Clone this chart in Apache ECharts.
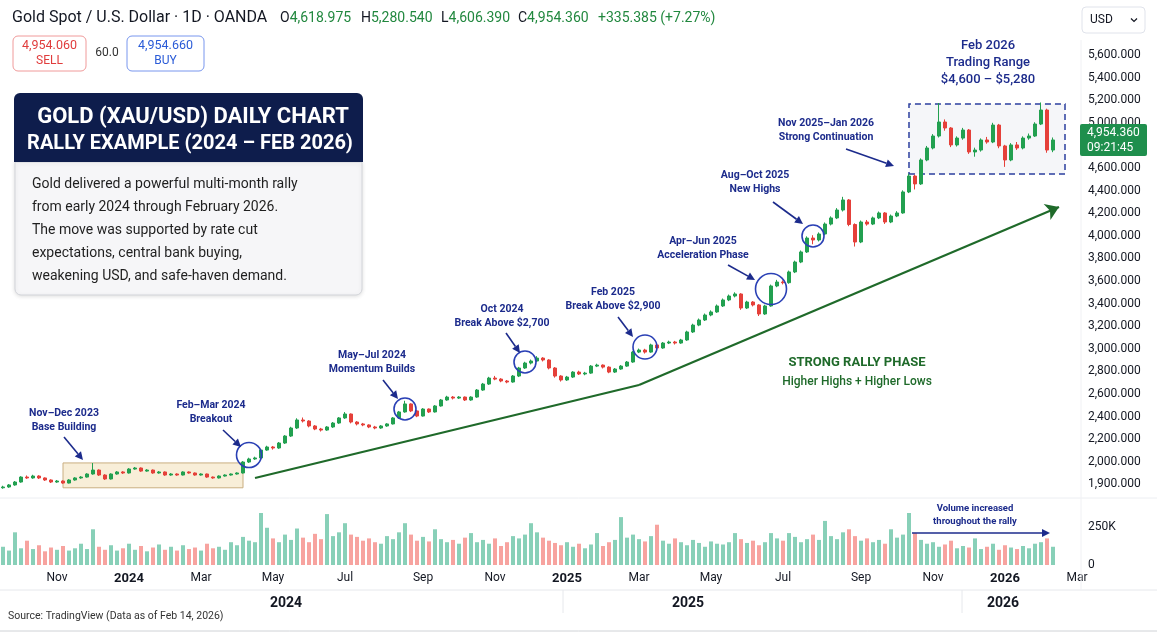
<!DOCTYPE html>
<html lang="en">
<head>
<meta charset="UTF-8">
<title>Gold XAU/USD daily rally</title>
<script src="https://cdn.jsdelivr.net/npm/echarts@6.0.0/dist/echarts.min.js"></script>
<style>html,body{margin:0;padding:0;background:#fff}</style>
</head>
<body>
<div id="main" style="width:1157px;height:633px"></div>
<script>
// one candle every 5 calendar days from startDate; a few empty slots on the right
var startDate = '2023-09-21';
var stepDays = 5;
var slotCount = 180;

var firstOpen = 1770;
var closes = [1777,1795,1821,1865,1857,1874,1857,1839,1821,1830,
  1812,1839,1857,1865,1892,1927,1883,1848,1892,1910,
  1901,1936,1945,1918,1927,1901,1910,1883,1892,1883,
  1910,1901,1883,1892,1865,1857,1874,1883,1892,1901,
  1998,2025,2034,2104,2131,2122,2166,2228,2299,2370,
  2361,2317,2290,2281,2308,2343,2388,2423,2352,2335,
  2326,2308,2299,2317,2335,2388,2441,2512,2450,2405,
  2467,2441,2494,2547,2573,2564,2573,2547,2573,2635,
  2688,2741,2732,2715,2706,2759,2830,2874,2892,2918,
  2901,2830,2759,2724,2750,2794,2777,2785,2847,2856,
  2838,2794,2821,2847,2883,2971,2989,2971,3034,3007,
  3051,3060,3051,3078,3149,3210,3255,3299,3326,3379,
  3432,3467,3485,3361,3414,3388,3308,3379,3556,3591,
  3585,3680,3768,3857,3980,3963,4016,4104,4158,4228,
  4317,4100,3945,4122,4104,4158,4202,4122,4175,4202,
  4388,4529,4459,4671,4777,4883,5007,4954,4804,4865,
  4936,4742,4759,4848,4830,4980,4795,4671,4804,4777,
  4865,4883,4989,5113,4759,4848];
var highs = [1788,1803,1830,1872,1879,1885,1881,1862,1845,1839,
  1836,1846,1864,1873,1899,1989,1933,1890,1898,1918,
  1917,1944,1954,1950,1935,1932,1918,1915,1900,1898,
  1916,1915,1906,1898,1896,1870,1880,1889,1897,1907,
  2006,2036,2045,2112,2142,2140,2175,2236,2310,2385,
  2392,2368,2325,2300,2316,2352,2396,2440,2428,2360,
  2344,2332,2318,2325,2342,2396,2450,2540,2518,2458,
  2475,2472,2502,2556,2584,2582,2581,2578,2580,2644,
  2698,2752,2760,2740,2724,2768,2840,2885,2905,2935,
  2926,2908,2838,2766,2760,2802,2806,2796,2856,2868,
  2862,2845,2830,2856,2892,2980,3002,3000,3045,3042,
  3060,3072,3070,3088,3160,3222,3268,3312,3340,3392,
  3445,3480,3500,3492,3425,3422,3395,3390,3568,3610,
  3605,3692,3780,3870,3995,4005,4030,4118,4172,4245,
  4345,4325,4110,4135,4140,4170,4215,4210,4188,4218,
  4402,4550,4540,4685,4795,4900,5175,5030,4962,4880,
  4955,4945,4780,4862,4875,5000,4990,4805,4820,4830,
  4880,4905,5005,5180,5125,4870];
var lows = [1762,1770,1788,1815,1849,1850,1848,1831,1812,1814,
  1805,1808,1833,1850,1860,1886,1875,1840,1843,1886,
  1893,1896,1930,1911,1912,1894,1895,1876,1877,1876,
  1879,1895,1877,1878,1858,1850,1852,1869,1878,1887,
  1896,1990,2017,2029,2097,2108,2115,2158,2220,2290,
  2348,2305,2280,2268,2274,2300,2336,2380,2340,2322,
  2315,2298,2288,2292,2310,2330,2380,2435,2440,2395,
  2400,2432,2436,2488,2540,2552,2556,2538,2540,2566,
  2628,2680,2722,2704,2695,2700,2750,2822,2862,2884,
  2888,2818,2745,2710,2716,2742,2768,2766,2778,2838,
  2826,2784,2786,2814,2840,2876,2962,2958,2965,2995,
  3000,3042,3038,3044,3070,3140,3200,3246,3288,3318,
  3370,3422,3455,3345,3352,3375,3290,3300,3372,3545,
  3570,3576,3670,3758,3848,3925,3950,4005,4092,4148,
  4215,4085,3905,3935,4090,4095,4148,4105,4112,4165,
  4195,4378,4410,4450,4660,4765,4870,4930,4785,4790,
  4850,4725,4700,4745,4815,4820,4775,4610,4660,4760,
  4765,4850,4875,4980,4735,4740];
// volume in thousands
var volumes = [120,95,215,110,160,105,130,90,115,100,
  125,95,110,140,105,235,120,100,130,95,
  110,140,100,125,90,115,135,100,120,95,
  130,105,115,95,140,110,120,100,150,130,
  185,160,150,342,245,175,150,200,165,240,
  180,150,205,170,335,190,215,275,200,185,
  160,175,150,140,190,170,215,275,200,160,
  185,155,235,170,150,165,140,180,210,150,
  165,140,175,125,150,190,175,200,275,215,
  180,160,145,130,150,120,140,110,135,210,
  125,150,165,315,180,200,170,155,190,265,
  160,140,175,150,130,165,145,120,155,140,
  135,150,210,170,145,160,130,150,210,175,
  160,210,185,150,170,200,165,290,190,170,
  215,235,190,160,175,150,165,140,235,180,
  200,342,210,165,140,150,120,135,160,110,
  125,115,175,105,120,140,100,130,115,105,
  125,110,140,150,175,120];

var priceTickValues = [1800,2000,2200,2400,2600,2800,3000,3200,3400,3600,3800,4000,4200,4400,4600,4800,5000,5200,5400,5600];
var priceTickLabels = ['1,900.000','2,000.000','2,200.000','2,400.000','2,600.000','2,800.000','3,000.000','3,200.000','3,400.000','3,600.000','3,800.000','4,000.000','4,200.000','4,400.000','4,600.000','4,800.000','5,000.000','5,200.000','5,400.000','5,600.000'];
var volumeTickValues = [0, 250000];
var volumeTickLabels = ['0', '250K'];
var monthNames = ['Jan','Feb','Mar','Apr','May','Jun','Jul','Aug','Sep','Oct','Nov','Dec'];

var quote = {open: '4,618.975', high: '5,280.540', low: '4,606.390', close: '4,954.360', change: '+335.385 (+7.27%)',
  sell: '4,954.060', spread: '60.0', buy: '4,954.660', clock: '09:21:45'};

// annotated zones (candle index, price)
var baseBox = {from: 10, to: 40, low: 1770, high: 1990};
var rangeBox = {from: 151, to: 177, low: 4547, high: 5166};
var circles = [
  {i: 41, v: 2060, size: 25},
  {i: 67, v: 2467, size: 22},
  {i: 87, v: 2883, size: 22},
  {i: 107, v: 3016, size: 24},
  {i: 128, v: 3529, size: 31},
  {i: 135, v: 3998, size: 22}
];
var trendPoints = [[42, 1857], [106, 2680], [176, 4255]];

var upColor = '#22a050', downColor = '#e5403a';
var volUp = 'rgba(38,170,125,0.55)', volDown = 'rgba(240,88,80,0.55)';
var navy = '#1c2b8c', ring = '#2a40b5', trendGreen = '#1f6a2a';
var ink = '#131722';
var FONT = 'Roboto, "Noto Sans", sans-serif';

var dates = [];
var t0 = Date.parse(startDate + 'T00:00:00Z');
for (var k = 0; k < slotCount; k++) {
  dates.push(new Date(t0 + k * stepDays * 86400000).toISOString().slice(0, 10));
}

var candles = closes.map(function (c, i) {
  var o = i ? closes[i - 1] : firstOpen;
  return [o, c, lows[i], highs[i]];
});
var volData = volumes.map(function (v, i) {
  var up = candles[i][1] >= candles[i][0];
  return {value: v * 1000, itemStyle: {color: up ? volUp : volDown}};
});

function monthLabelShown(i) {
  if (i === 0) return false;
  var m = +dates[i].slice(5, 7);
  return m !== +dates[i - 1].slice(5, 7) && m % 2 === 1;
}

var chart = echarts.init(document.getElementById('main'));

var option = {
  animation: false,
  backgroundColor: '#fff',
  textStyle: {fontFamily: FONT},
  grid: [
    {left: 0, width: 1080, top: 32.4, height: 463.3},
    {left: 0, width: 1080, top: 504.2, height: 60.8}
  ],
  xAxis: [
    {type: 'category', gridIndex: 0, data: dates, boundaryGap: true,
      axisLine: {show: false}, axisTick: {show: false}, axisLabel: {show: false}, splitLine: {show: false}},
    {type: 'category', gridIndex: 1, data: dates, boundaryGap: true,
      axisLine: {show: false}, axisTick: {show: false}, splitLine: {show: false},
      axisLabel: {
        interval: function (i) { return monthLabelShown(i); },
        formatter: function (v) {
          var m = +v.slice(5, 7);
          return m === 1 ? '{y|' + v.slice(0, 4) + '}' : monthNames[m - 1];
        },
        margin: 7, color: ink, fontSize: 12, fontFamily: FONT,
        rich: {y: {fontWeight: 'bold', fontSize: 13, color: ink, fontFamily: FONT}}
      }}
  ],
  yAxis: [
    {type: 'value', gridIndex: 0, position: 'right', min: 1700, max: 5800,
      axisLine: {show: false}, axisTick: {show: false}, splitLine: {show: false},
      axisLabel: {
        customValues: priceTickValues,
        formatter: function (v) {
          var k = priceTickValues.indexOf(v);
          return k >= 0 ? priceTickLabels[k] : '';
        },
        align: 'left', margin: 8, color: ink, fontSize: 12, fontFamily: FONT
      }},
    {type: 'value', gridIndex: 1, position: 'right', min: 0, max: 400000,
      axisLine: {show: false}, axisTick: {show: false}, splitLine: {show: false},
      axisLabel: {
        customValues: volumeTickValues,
        formatter: function (v) {
          var k = volumeTickValues.indexOf(v);
          return k >= 0 ? volumeTickLabels[k] : '';
        },
        align: 'left', margin: 8, color: ink, fontSize: 12, fontFamily: FONT
      }}
  ],
  series: [
    {
      name: 'XAUUSD', type: 'candlestick', xAxisIndex: 0, yAxisIndex: 0,
      data: candles, barWidth: 2.8,
      itemStyle: {color: upColor, color0: downColor, borderColor: upColor, borderColor0: downColor, borderWidth: 1},
      markArea: {
        silent: true,
        data: [
          [{xAxis: dates[baseBox.from], yAxis: baseBox.low,
            itemStyle: {color: 'rgba(244,226,190,0.6)', borderColor: '#c9ae80', borderWidth: 1}},
           {xAxis: dates[baseBox.to], yAxis: baseBox.high}],
          [{xAxis: dates[rangeBox.from], yAxis: rangeBox.low,
            itemStyle: {color: 'rgba(226,229,238,0.35)', borderColor: '#2b3f9e', borderWidth: 1.5, borderType: [6, 4]}},
           {xAxis: dates[rangeBox.to], yAxis: rangeBox.high}]
        ]
      },
      markPoint: {
        silent: true, symbol: 'circle',
        label: {show: false},
        itemStyle: {color: 'rgba(0,0,0,0)', borderColor: ring, borderWidth: 1.6},
        data: circles.map(function (c) {
          return {coord: [dates[c.i], c.v], symbolSize: c.size};
        })
      },
      markLine: {
        silent: true, symbol: ['none', 'none'],
        label: {show: false},
        lineStyle: {color: trendGreen, width: 2.2, type: 'solid'},
        data: [
          [{coord: [dates[trendPoints[0][0]], trendPoints[0][1]]}, {coord: [dates[trendPoints[1][0]], trendPoints[1][1]]}],
          [{coord: [dates[trendPoints[1][0]], trendPoints[1][1]]},
           {coord: [dates[trendPoints[2][0]], trendPoints[2][1]], symbol: 'arrow', symbolSize: 13}]
        ]
      }
    },
    {
      name: 'Volume', type: 'bar', xAxisIndex: 1, yAxisIndex: 1,
      data: volData, barWidth: 4
    }
  ]
};
chart.setOption(option);

// ---------- overlay texts and chrome ----------
function txt(x, y, text, font, fill, align, extra) {
  var s = {text: text, x: x, y: y, font: font, fill: fill, align: align || 'left', verticalAlign: 'middle'};
  if (extra) for (var p in extra) s[p] = extra[p];
  return {type: 'text', z: 50, style: s};
}
function hline(x1, x2, y, color) {
  return {type: 'line', z: 40, shape: {x1: x1, y1: y, x2: x2, y2: y}, style: {stroke: color, lineWidth: 1}};
}
function vline(x, y1, y2, color) {
  return {type: 'line', z: 40, shape: {x1: x, y1: y1, x2: x, y2: y2}, style: {stroke: color, lineWidth: 1}};
}
function arrow(x1, y1, x2, y2, color, head, width) {
  var a = Math.atan2(y2 - y1, x2 - x1);
  var hx = x2 - head * Math.cos(a), hy = y2 - head * Math.sin(a);
  var px = Math.sin(a) * head * 0.5, py = -Math.cos(a) * head * 0.5;
  return [
    {type: 'line', z: 50, shape: {x1: x1, y1: y1, x2: hx, y2: hy}, style: {stroke: color, lineWidth: width || 1.6}},
    {type: 'polygon', z: 50, shape: {points: [[x2, y2], [hx + px, hy + py], [hx - px, hy - py]]}, style: {fill: color}}
  ];
}

var annFont = 'bold 10.5px ' + FONT;
var notes = [
  {x: 64, y: 413, lines: ['Nov\u2013Dec 2023', 'Base Building'], a: [64, 437, 83, 460]},
  {x: 211, y: 405, lines: ['Feb\u2013Mar 2024', 'Breakout'], a: [223, 430, 241, 447]},
  {x: 372, y: 355, lines: ['May\u2013Jul 2024', 'Momentum Builds'], a: [383, 380, 398, 399]},
  {x: 502, y: 309, lines: ['Oct 2024', 'Break Above $2,700'], a: [506, 333, 520, 353]},
  {x: 613, y: 292, lines: ['Feb 2025', 'Break Above $2,900'], a: [618, 317, 633, 337]},
  {x: 703, y: 241, lines: ['Apr\u2013Jun 2025', 'Acceleration Phase'], a: [728, 265, 755, 280]},
  {x: 755, y: 175, lines: ['Aug\u2013Oct 2025', 'New Highs'], a: [773, 202, 803, 224]},
  {x: 826, y: 123, lines: ['Nov 2025\u2013Jan 2026', 'Strong Continuation'], a: [846, 149, 894, 166]}
];

var g = [];
// separators
g.push(hline(0, 1157, 498, '#eceef2'));
g.push(hline(0, 1157, 590, '#e6e8ec'));
g.push(vline(1081, 40, 590, '#f0f1f4'));
g.push(vline(563, 590, 613, '#e6e8ec'));
g.push(vline(962, 590, 613, '#e6e8ec'));
g.push(hline(0, 1157, 631, '#cfd2d6'));

// header
g.push(txt(12, 18, 'Gold Spot / U.S. Dollar \u00b7 1D \u00b7 OANDA', '16px ' + FONT, ink));
var ohlc = [['O', quote.open, 280], ['H', quote.high, 361], ['L', quote.low, 441], ['C', quote.close, 518]];
ohlc.forEach(function (q) {
  g.push(txt(q[2], 18, '{k|' + q[0] + '}{v|' + q[1] + '}', '14px ' + FONT, ink, 'left', {
    rich: {k: {fill: ink, font: '14px ' + FONT}, v: {fill: '#22883f', font: '14px ' + FONT}}
  }));
});
g.push(txt(598, 18, quote.change, '14px ' + FONT, '#22883f'));

// sell / buy
g.push({type: 'rect', z: 45, shape: {x: 13, y: 36, width: 73, height: 35, r: 5}, style: {fill: '#fff', stroke: '#f09a9a', lineWidth: 1}});
g.push(txt(49.5, 46, quote.sell, '12.5px ' + FONT, '#e03c3c', 'center'));
g.push(txt(49.5, 61, 'SELL', '12px ' + FONT, '#e03c3c', 'center'));
g.push(txt(107, 53, quote.spread, '12px ' + FONT, '#333', 'center'));
g.push({type: 'rect', z: 45, shape: {x: 127, y: 36, width: 77, height: 35, r: 5}, style: {fill: '#fff', stroke: '#7896ee', lineWidth: 1}});
g.push(txt(165.5, 46, quote.buy, '12.5px ' + FONT, '#2a5bd7', 'center'));
g.push(txt(165.5, 61, 'BUY', '12px ' + FONT, '#2a5bd7', 'center'));

// currency dropdown
g.push({type: 'rect', z: 45, shape: {x: 1082, y: 7, width: 63, height: 26, r: 4}, style: {fill: '#fff', stroke: '#e0e3eb', lineWidth: 1}});
g.push(txt(1090, 20, 'USD', '12px ' + FONT, ink));
g.push({type: 'polyline', z: 50, shape: {points: [[1131, 18.5], [1134, 21.5], [1137, 18.5]]}, style: {stroke: ink, lineWidth: 1.2, fill: null}});

// title panel
g.push({type: 'rect', z: 44, shape: {x: 15, y: 162, width: 347, height: 133, r: [0, 0, 6, 6]},
  style: {fill: '#f6f6f8', stroke: '#d3d5da', lineWidth: 1, shadowBlur: 4, shadowColor: 'rgba(0,0,0,0.12)', shadowOffsetY: 1}});
g.push({type: 'rect', z: 45, shape: {x: 14, y: 93, width: 349, height: 69, r: [6, 6, 0, 0]}, style: {fill: '#0e1d4c'}});
g.push(txt(193, 117, 'GOLD (XAU/USD) DAILY CHART', 'bold 22px ' + FONT, '#fff', 'center', {z2: 1}));
g.push(txt(190, 144, 'RALLY EXAMPLE (2024 \u2013 FEB 2026)', 'bold 20px ' + FONT, '#fff', 'center'));
var body = ['Gold delivered a powerful multi-month rally', 'from early 2024 through February 2026.',
  'The move was supported by rate cut', 'expectations, central bank buying,', 'weakening USD, and safe-haven demand.'];
body.forEach(function (line, k) {
  g.push(txt(32, 184 + k * 23, line, '14px ' + FONT, '#1f1f1f'));
});

// phase notes
notes.forEach(function (n) {
  n.lines.forEach(function (line, k) {
    g.push(txt(n.x, n.y + k * 14.5, line, annFont, navy, 'center'));
  });
  g = g.concat(arrow(n.a[0], n.a[1], n.a[2], n.a[3], navy, 8, 1.6));
});
g.push(txt(988, 46, 'Feb 2026', '500 13px ' + FONT, navy, 'center'));
g.push(txt(988, 63, 'Trading Range', '500 13px ' + FONT, navy, 'center'));
g.push(txt(988, 80, '$4,600 \u2013 $5,280', '500 13px ' + FONT, navy, 'center'));
g.push(txt(857, 363, 'STRONG RALLY PHASE', 'bold 13px ' + FONT, trendGreen, 'center'));
g.push(txt(857, 382, 'Higher Highs + Higher Lows', '500 12px ' + FONT, trendGreen, 'center'));

// volume note
g.push(txt(975, 509, 'Volume increased', 'bold 9.5px ' + FONT, navy, 'center'));
g.push(txt(975, 522, 'throughout the rally', 'bold 9.5px ' + FONT, navy, 'center'));
g = g.concat(arrow(912, 533, 1050, 533, navy, 8, 1.4));

// years row + source
g.push(txt(286, 603, '2024', 'bold 14px ' + FONT, ink, 'center'));
g.push(txt(688, 603, '2025', 'bold 14px ' + FONT, ink, 'center'));
g.push(txt(1003, 603, '2026', 'bold 14px ' + FONT, ink, 'center'));
g.push(txt(8, 616, 'Source: TradingView (Data as of Feb 14, 2026)', '10.5px ' + FONT, '#333'));

// last price tag on the price scale
var lastY = chart.convertToPixel({yAxisIndex: 0}, closes[closes.length - 1]);
g.push({type: 'rect', z: 60, shape: {x: 1080, y: lastY - 16, width: 67, height: 32, r: 2}, style: {fill: '#1f8f4d'}});
var tag1 = txt(1087, lastY - 7, quote.close, '12px ' + FONT, '#fff');
var tag2 = txt(1087, lastY + 8, quote.clock, '12px ' + FONT, '#fff');
tag1.z = 61; tag2.z = 61;
g.push(tag1, tag2);

chart.setOption({graphic: g});
</script>
</body>
</html>
